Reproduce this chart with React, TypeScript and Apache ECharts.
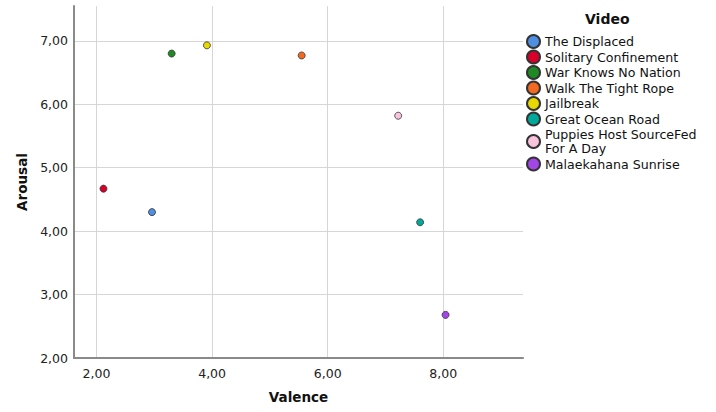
import React, { useEffect, useRef } from "react";
import * as echarts from "echarts";

const videos = [
  "The Displaced",
  "Solitary Confinement",
  "War Knows No Nation",
  "Walk The Tight Rope",
  "Jailbreak",
  "Great Ocean Road",
  "Puppies Host SourceFed\nFor A Day",
  "Malaekahana Sunrise",
];
const valence = [2.96, 2.12, 3.3, 5.55, 3.91, 7.6, 7.22, 8.04];
const arousal = [4.3, 4.67, 6.8, 6.77, 6.93, 4.14, 5.82, 2.68];
const colors = ["#4f8fe3", "#d8002b", "#1f8a24", "#f26a22", "#e6d800", "#00a99a", "#f9c3dc", "#a246ea"];
const xTicks = [2, 4, 6, 8];
const yTicks = [2, 3, 4, 5, 6, 7];

const fmt = (v: number) => v.toFixed(2).replace(".", ",");
const FONT = "DejaVu Sans";

export default function App() {
  const ref = useRef<HTMLDivElement>(null);
  useEffect(() => {
    if (!ref.current) return;
    document.body.style.margin = "0";
    const chart = echarts.init(ref.current, undefined, { renderer: "svg" });
    const gridLine = { show: true, lineStyle: { color: "#d6d6d6", width: 1 } };
    chart.setOption({
      animation: false,
      textStyle: { fontFamily: FONT },
      title: {
        text: "Video",
        left: 580,
        top: 7,
        textStyle: { fontFamily: FONT, fontSize: 14, fontWeight: "bold", color: "#111" },
      },
      legend: {
        orient: "vertical",
        left: 521,
        top: 29,
        itemWidth: 13,
        itemHeight: 13,
        itemGap: 0.5,
        icon: "circle",
        textStyle: { fontFamily: FONT, fontSize: 12.6, color: "#111", lineHeight: 14.5 },
        data: videos,
      },
      grid: { left: 74, top: 6, width: 449, height: 352, containLabel: false },
      xAxis: {
        type: "value",
        min: 1.61,
        max: 9.38,
        name: "Valence",
        nameLocation: "middle",
        nameGap: 32,
        nameTextStyle: { fontFamily: FONT, fontSize: 13.5, fontWeight: "bold", color: "#111" },
        axisLine: { show: true, onZero: false, lineStyle: { color: "#8a8a8a", width: 2 } },
        axisTick: { show: false, customValues: xTicks },
        axisLabel: { customValues: xTicks, formatter: fmt, fontFamily: FONT, fontSize: 12.5, color: "#222", margin: 9 },
        splitLine: { ...gridLine, customValues: xTicks },
      },
      yAxis: {
        type: "value",
        min: 2,
        max: 7.55,
        name: "Arousal",
        nameLocation: "middle",
        nameGap: 45,
        nameRotate: 90,
        nameTextStyle: { fontFamily: FONT, fontSize: 13.5, fontWeight: "bold", color: "#111" },
        axisLine: { show: true, onZero: false, lineStyle: { color: "#8a8a8a", width: 2 } },
        axisTick: { show: false, customValues: yTicks },
        axisLabel: { customValues: yTicks, formatter: fmt, fontFamily: FONT, fontSize: 12.5, color: "#222", margin: 6 },
        splitLine: { ...gridLine, customValues: yTicks },
      },
      series: videos.map((name, i) => ({
        type: "scatter",
        name,
        symbol: "circle",
        symbolSize: 7,
        itemStyle: { color: colors[i], borderColor: "#333", borderWidth: 0.8, opacity: 1 },
        data: [[valence[i], arousal[i]]],
      })),
    });
    return () => chart.dispose();
  }, []);
  return <div ref={ref} style={{ width: 716, height: 412 }} />;
}
